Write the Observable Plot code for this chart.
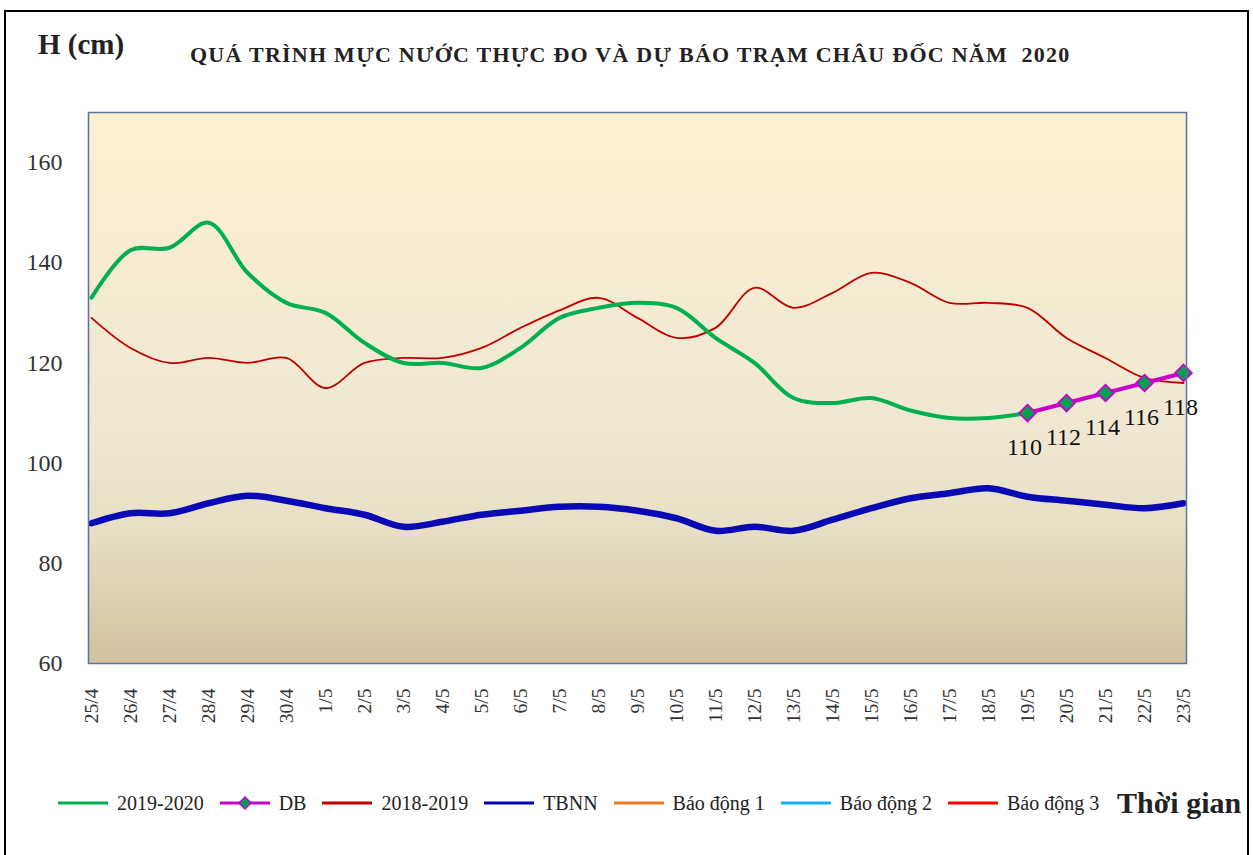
<!DOCTYPE html>
<html><head><meta charset="utf-8">
<script src="https://cdn.jsdelivr.net/npm/d3@7"></script>
<script src="https://cdn.jsdelivr.net/npm/@observablehq/plot@0.6"></script>
<style>
body{margin:0;background:#fff;font-family:"Liberation Serif","Times New Roman",serif;}
#wrap{position:relative;width:1253px;height:855px;overflow:hidden;background:#fff;}
#chart{position:absolute;left:0;top:0;}
#frame{position:absolute;left:4px;top:10px;width:1241px;height:900px;border:2px solid #000;pointer-events:none;}
#ylab{position:absolute;left:38px;top:30px;line-height:1;font-weight:bold;font-size:29px;color:#222;white-space:nowrap;}
#title{position:absolute;left:190px;top:44px;line-height:1;font-weight:bold;font-size:22px;letter-spacing:1.25px;color:#222;white-space:nowrap;}
#legend{position:absolute;left:58px;top:790px;height:26px;display:flex;align-items:center;font-size:20px;color:#222;white-space:nowrap;}
#legend .it{display:flex;align-items:center;margin-right:16px;}
#legend svg{margin-right:9px;}
#xlab{position:absolute;left:1117px;top:788px;line-height:1;font-weight:bold;font-size:30px;color:#222;white-space:nowrap;}
</style></head><body>
<div id="wrap">
  <div id="chart"></div>
  <div id="ylab">H (cm)</div>
  <div id="title">QUÁ TRÌNH MỰC NƯỚC THỰC ĐO VÀ DỰ BÁO TRẠM CHÂU ĐỐC NĂM&nbsp; 2020</div>
  <div id="legend"></div>
  <div id="xlab">Thời gian</div>
  <div id="frame"></div>
</div>
<script>
// ---- data ----
const dates = ["25/4","26/4","27/4","28/4","29/4","30/4","1/5","2/5","3/5","4/5","5/5","6/5","7/5","8/5","9/5","10/5","11/5","12/5","13/5","14/5","15/5","16/5","17/5","18/5","19/5","20/5","21/5","22/5","23/5"];
const h20192020 = [133,142.5,143,148,138,132,130,124,120,120,119,123,129,131,132,131,125,120,113,112,113,110.5,109,109,110];
const dbDates = ["19/5","20/5","21/5","22/5","23/5"];
const dbValues = [110,112,114,116,118];
const h20182019 = [129,123,120,121,120,121,115,120,121,121,123,127,130.5,133,129,125,127,135,131,134,138,136,132,132,131,125,121,117,116];
const tbnn = [88,90,90,92,93.5,92.5,91,89.7,87.3,88.3,89.7,90.5,91.3,91.3,90.5,89,86.5,87.3,86.5,88.7,91,93,94,95,93.3,92.5,91.7,91,92];
const yTicks = [60,80,100,120,140,160];
const legendItems = [
  {label:"2019-2020", color:"#00b050", marker:false},
  {label:"DB", color:"#cc00cc", marker:true},
  {label:"2018-2019", color:"#c00000", marker:false},
  {label:"TBNN", color:"#0000b4", marker:false},
  {label:"Báo động 1", color:"#f07820", marker:false},
  {label:"Báo động 2", color:"#10b0f0", marker:false},
  {label:"Báo động 3", color:"#ff0000", marker:false}
];

const s2020 = h20192020.map((v,i)=>({d:dates[i], v}));
const s2019 = h20182019.map((v,i)=>({d:dates[i], v}));
const sT = tbnn.map((v,i)=>({d:dates[i], v}));
const sDB = dbValues.map((v,i)=>({d:dbDates[i], v}));

function gradientDefs(){
  const ns="http://www.w3.org/2000/svg";
  const g=document.createElementNS(ns,"g");
  const defs=document.createElementNS(ns,"defs");
  const lg=document.createElementNS(ns,"linearGradient");
  lg.setAttribute("id","bgGrad");lg.setAttribute("x1","0");lg.setAttribute("y1","0");lg.setAttribute("x2","0");lg.setAttribute("y2","1");
  [["0%","#fdefd2"],["55%","#f0e8d3"],["75%","#e8dfc6"],["100%","#d1c29e"]].forEach(([o,c])=>{
    const st=document.createElementNS(ns,"stop");st.setAttribute("offset",o);st.setAttribute("stop-color",c);lg.appendChild(st);
  });
  defs.appendChild(lg);g.appendChild(defs);return g;
}

const chart = Plot.plot({
  width:1253, height:855,
  marginLeft:88, marginRight:67, marginTop:112, marginBottom:192,
  style:{fontFamily:"'Liberation Serif','Times New Roman',serif", background:"transparent", color:"#333"},
  x:{type:"point", domain:dates, padding:0},
  y:{domain:[60,170]},
  marks:[
    gradientDefs,
    Plot.frame({fill:"url(#bgGrad)", stroke:"none"}),
    Plot.axisY({ticks:yTicks, tickSize:0, tickPadding:26, fontSize:24, label:null, fill:"#333"}),
    Plot.axisX({tickSize:0, tickPadding:25, tickRotate:-90, fontSize:19.5, label:null, fill:"#333"}),
    Plot.line(sT,{x:"d", y:"v", stroke:"#0a0ab4", strokeWidth:6.5, curve:"catmull-rom"}),
    Plot.line(s2019,{x:"d", y:"v", stroke:"#c00000", strokeWidth:1.8, curve:"catmull-rom"}),
    Plot.line(s2020,{x:"d", y:"v", stroke:"#00b050", strokeWidth:4, curve:"catmull-rom"}),
    Plot.line(sDB,{x:"d", y:"v", stroke:"#cc00cc", strokeWidth:4}),
    Plot.dot(sDB,{x:"d", y:"v", symbol:"diamond2", r:7.5, fill:"#00a050", stroke:"#cc00cc", strokeWidth:1.8}),
    Plot.text(sDB,{x:"d", y:"v", text:d=>String(d.v), dy:34, dx:-3, fontSize:24, fill:"#111"}),
    Plot.frame({stroke:"#5873a0", strokeWidth:1.5})
  ]
});
document.getElementById("chart").appendChild(chart);

const leg = document.getElementById("legend");
legendItems.forEach(it=>{
  const d=document.createElement("div");d.className="it";
  const m = it.marker ? `<path d="M25,-6 L31,0 L25,6 L19,0 Z" transform="translate(0,13)" fill="#00a050" stroke="${it.color}" stroke-width="1.5"/>` : "";
  d.innerHTML = `<svg width="50" height="26"><line x1="0" x2="50" y1="13" y2="13" stroke="${it.color}" stroke-width="3"/>${m}</svg><span>${it.label}</span>`;
  leg.appendChild(d);
});
</script>
</body></html>
